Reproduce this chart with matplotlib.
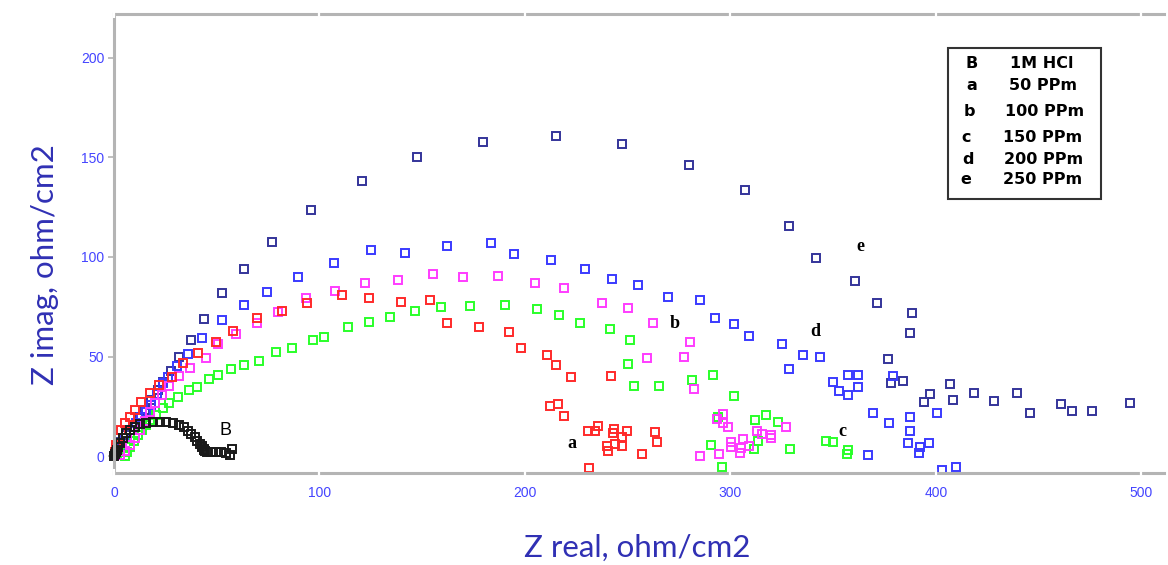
import matplotlib.pyplot as plt

# Nyquist data (Z real, Z imag), ohm/cm2
blank_re = [0.0, 0.5, 1.0, 1.5, 1.9, 2.9, 4.4, 5.8, 7.8, 10.2, 12.7, 15.6, 19.0, 22.4, 25.3,
            28.7, 31.6, 34.1, 36.0, 37.5, 39.4, 40.4, 41.8, 42.8, 43.0, 43.8, 44.0, 44.3, 45.3,
            47.2, 49.6, 52.1, 54.5, 56.4, 57.4]
blank_im = [0.0, 1.0, 2.0, 3.0, 4.5, 6.5, 9.0, 11.6, 13.1, 14.6, 16.1, 16.6, 17.1, 17.1, 17.1,
            16.6, 15.6, 14.6, 12.6, 11.1, 9.5, 7.5, 6.0, 4.5, 5.0, 3.5, 3.0, 2.5, 2.0,
            2.0, 2.0, 2.0, 1.5, 0.5, 3.5]

a_re = [0.5, 1.0, 1.9, 3.4, 5.4, 7.8, 10.2, 13.1, 17.5, 21.9, 28.2, 33.6, 40.9, 49.6, 57.9,
        69.6, 81.8, 93.9, 110.9, 124.1, 139.7, 153.8, 162.0, 177.6, 192.2, 198.1, 210.7, 215.1,
        222.4, 241.8, 212.2, 216.1, 219.0, 230.7, 234.1, 235.5, 243.3, 249.6, 242.8, 247.2,
        263.3, 264.2, 239.9, 243.8, 247.2, 240.4, 256.9, 231.1]
a_im = [2.0, 5.5, 9.0, 13.1, 16.6, 19.6, 23.1, 27.1, 31.7, 35.5, 39.7, 46.7, 51.8, 57.3, 62.8,
        69.3, 72.9, 76.9, 80.9, 79.4, 77.4, 78.4, 66.8, 64.8, 62.3, 54.3, 50.8, 45.7,
        39.7, 40.2, 25.1, 26.1, 20.1, 12.6, 12.6, 15.1, 13.6, 12.6, 11.6, 9.5,
        12.1, 7.0, 5.0, 6.0, 5.0, 2.5, 1.0, -6.0]

b_re = [2.9, 5.4, 7.8, 10.2, 12.7, 15.1, 17.5, 19.9, 23.4, 26.8, 31.6, 37.0, 44.8, 50.6, 59.4,
        69.6, 79.8, 93.4, 107.5, 122.1, 138.2, 155.2, 169.8, 186.9, 204.9, 219.0, 237.5, 250.1,
        262.3, 280.3, 259.4, 277.4, 282.2, 296.4, 293.4, 296.4, 298.8, 312.9, 315.3, 319.7,
        319.7, 327.0, 306.1, 300.2, 300.2, 309.0, 305.1, 304.6, 294.4, 285.2]
b_im = [0.5, 2.5, 5.5, 9.0, 13.1, 17.6, 22.1, 26.6, 30.7, 35.2, 40.2, 44.2, 49.2, 56.3, 61.3,
        66.8, 72.4, 79.4, 82.9, 86.9, 88.4, 91.5, 89.9, 90.5, 86.9, 84.4, 76.9, 74.4,
        66.8, 57.3, 49.2, 49.7, 33.7, 21.1, 18.6, 16.6, 14.6, 12.6, 11.1, 10.6,
        9.0, 14.6, 8.5, 7.0, 4.5, 5.0, 4.0, 1.5, 1.0, 0.0]

c_re = [5.4, 6.3, 7.8, 9.7, 11.7, 13.6, 15.6, 17.5, 20.4, 23.8, 26.8, 31.1, 36.5, 40.4, 46.2,
        50.6, 56.9, 63.3, 70.6, 78.8, 86.6, 96.8, 102.2, 113.9, 124.1, 134.3, 146.5, 159.1,
        173.2, 190.3, 205.8, 216.5, 226.8, 241.4, 251.1, 250.1, 253.0, 265.2, 281.3, 291.5,
        301.7, 317.3, 311.9, 293.9, 323.1, 313.4, 311.4, 329.0, 290.5, 295.9, 346.5, 349.9,
        357.2, 356.7]
c_im = [0.0, 2.0, 4.5, 7.5, 10.6, 13.1, 15.6, 18.1, 20.6, 24.1, 26.6, 29.6, 33.2, 34.7, 38.7,
        40.7, 43.7, 45.7, 47.7, 52.3, 54.3, 58.3, 59.8, 64.8, 67.3, 69.8, 72.9, 74.9,
        75.4, 75.9, 73.9, 70.9, 66.8, 63.8, 58.3, 46.2, 35.2, 35.2, 38.2, 40.7,
        30.2, 20.6, 18.1, 19.6, 17.1, 7.5, 3.5, 3.5, 5.5, -5.5, 7.5, 7.0,
        3.0, 1.0]

d_re = [1.0, 2.9, 5.4, 7.8, 10.7, 13.1, 15.6, 18.0, 20.9, 23.8, 26.3, 30.7, 36.0, 42.8, 52.6,
        63.3, 74.5, 89.5, 107.1, 125.1, 141.6, 162.0, 183.5, 194.6, 212.7, 229.2, 242.3, 255.0,
        269.6, 285.2, 292.5, 301.7, 309.0, 325.1, 335.3, 343.6, 328.5, 357.2, 362.0, 349.9,
        362.0, 352.8, 357.2, 379.1, 369.3, 400.5, 387.3, 377.1, 387.3, 386.4, 396.6, 392.2,
        391.7, 366.9, 409.7, 402.9]
d_im = [0.5, 4.5, 9.0, 13.1, 16.6, 19.6, 22.1, 25.6, 31.2, 36.7, 39.7, 45.2, 51.3, 59.3, 68.3,
        75.9, 82.4, 89.9, 97.0, 103.5, 102.0, 105.5, 107.0, 101.5, 98.5, 94.0, 88.9, 85.9,
        79.9, 78.4, 69.3, 66.3, 60.3, 56.3, 50.8, 49.7, 43.7, 40.7, 40.7, 37.2,
        34.7, 32.7, 30.7, 40.2, 21.6, 21.6, 19.6, 16.6, 12.6, 6.5, 6.5, 4.5,
        1.5, 0.5, -5.5, -7.0]

e_re = [0.5, 1.0, 3.4, 5.8, 9.2, 12.7, 15.1, 18.0, 21.4, 23.8, 27.7, 31.6, 37.5, 43.8, 52.6,
        63.3, 76.9, 95.9, 120.7, 147.4, 179.6, 215.1, 247.2, 279.8, 307.1, 328.5, 341.6, 360.6,
        371.3, 388.3, 387.3, 376.6, 383.9, 378.1, 406.8, 397.1, 394.2, 408.3, 418.5, 428.2,
        439.4, 445.7, 460.8, 466.2, 475.9, 494.4]
e_im = [1.5, 4.0, 7.0, 10.6, 14.6, 19.6, 23.1, 28.1, 33.2, 37.2, 42.7, 49.7, 58.3, 68.8, 81.9,
        94.0, 107.5, 123.6, 138.2, 150.3, 157.8, 160.8, 156.8, 146.2, 133.7, 115.6, 99.5, 87.9,
        76.9, 71.9, 61.8, 48.7, 37.7, 36.7, 36.2, 31.2, 27.1, 28.1, 31.7, 27.6,
        31.7, 21.6, 26.1, 22.6, 22.6, 26.6]

series = [
    (e_re, e_im, '#34349a'),
    (d_re, d_im, '#3a3aff'),
    (c_re, c_im, '#2aff2a'),
    (b_re, b_im, '#ff3cff'),
    (a_re, a_im, '#ff2a2a'),
    (blank_re, blank_im, '#1a1a1a'),
]

legend_keys = ['B', 'a', 'b', 'c', 'd', 'e']
legend_vals = ['1M HCl', '50 PPm', '100 PPm', '150 PPm', '200 PPm', '250 PPm']

# curve letters and where they sit (data coords)
curve_tags = ['a', 'b', 'c', 'd', 'e']
tag_x = [222.9, 273.0, 354.3, 341.1, 363.0]
tag_y = [6.5, 66.8, 12.1, 62.8, 105.5]

fig = plt.figure(figsize=(11.68, 5.65), dpi=100)
ax = fig.add_axes([0.0976, 0.1628, 0.899, 0.8124])

for re_, im_, col in series:
    ax.plot(re_, im_, ls='none', marker='s', ms=6, mfc='none', mec=col, mew=1.4, clip_on=False)

ax.set_xlim(0, 511)
ax.set_ylim(-8.5, 222)
ax.set_xticks([0, 100, 200, 300, 400, 500])
ax.set_yticks([0, 50, 100, 150, 200])

for side in ['bottom', 'top', 'left']:
    ax.spines[side].set_color('#b4b4b4')
    ax.spines[side].set_linewidth(2.2)
ax.spines['right'].set_visible(False)

# ticks on x are small white breaks in the grey axis line
ax.xaxis.set_zorder(3)
ax.tick_params(axis='x', direction='inout', length=6, width=1.6, color='white',
               top=True, bottom=True, labelbottom=True, pad=6,
               labelsize=10, labelcolor='#4444ff')
ax.tick_params(axis='y', direction='out', length=4, width=1.2, color='#b4b4b4',
               pad=3, labelsize=10, labelcolor='#4444ff')
for lab in ax.get_xticklabels() + ax.get_yticklabels():
    lab.set_fontfamily('Liberation Sans')

fig.text(0.546, 0.030, 'Z real, ohm/cm2', fontsize=22.5, color='#3030b4',
         family='Lato', ha='center', va='center')
fig.text(0.0385, 0.531, 'Z imag, ohm/cm2', fontsize=22.5, color='#3030b4',
         family='Lato', ha='center', va='center', rotation=90)

ax.text(54.5, 13.1, 'B', fontsize=13, family='Liberation Sans', ha='center', va='center')
for t, x, y in zip(curve_tags, tag_x, tag_y):
    ax.text(x, y, t, fontsize=13, family='Liberation Serif', fontweight='bold',
            ha='center', va='center')

# legend box drawn by hand
box = plt.Rectangle((948 / 1168, 1 - 199 / 565), (1101 - 948) / 1168, (199 - 48) / 565,
                    transform=fig.transFigure, fill=False, ec='#333333', lw=1.5)
fig.patches.append(box)
row_y = [63, 85, 111, 137, 159, 179]
key_x = [972, 972, 969, 966, 968, 966]
val_x = [1042, 1043, 1045, 1043, 1044, 1043]
for k, v, ry, kx, vx in zip(legend_keys, legend_vals, row_y, key_x, val_x):
    fig.text(kx / 1168, 1 - ry / 565, k, fontsize=11.5, fontweight='bold',
             family='DejaVu Sans', ha='center', va='center')
    fig.text(vx / 1168, 1 - ry / 565, v, fontsize=11.5, fontweight='bold',
             family='DejaVu Sans', ha='center', va='center')

fig.savefig('out.png', dpi=100)
